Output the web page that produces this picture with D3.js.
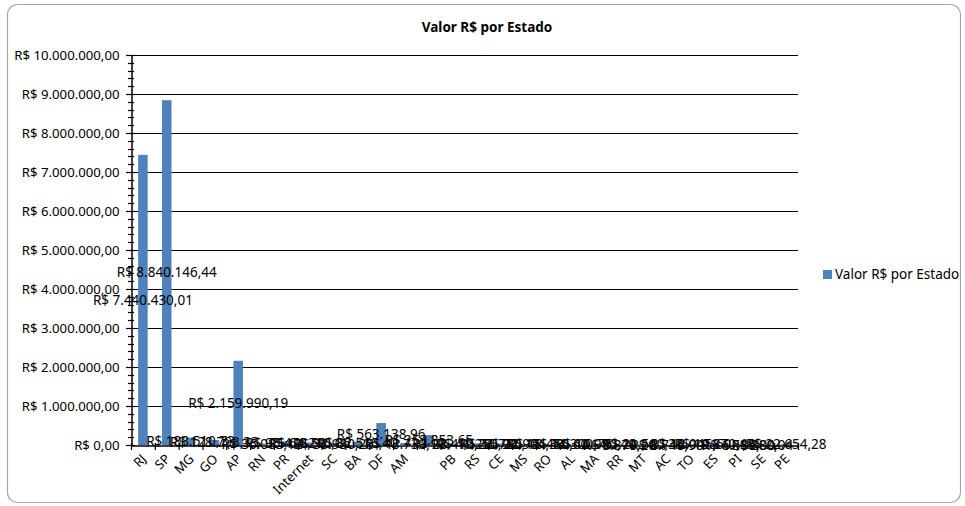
<!DOCTYPE html>
<html>
<head>
<meta charset="utf-8">
<script src="https://cdn.jsdelivr.net/npm/d3@7"></script>
<style>
  body { margin: 0; background: #fff; }
  svg { font-family: "Noto Sans", "Open Sans", sans-serif; }
</style>
</head>
<body>
<svg id="chart" width="965" height="506"></svg>
<script>
// categorias (estados) e valores
var estados = ["RJ", "SP", "MG", "GO", "AP", "RN", "PR", "Internet", "SC", "BA", "DF", "AM", "",
    "PB", "RS", "CE", "MS", "RO", "AL", "MA", "RR", "MT", "AC", "TO", "ES", "PI", "SE", "PE"];
var valores = [7440430.01, 8840146.44, 188510.73, 128793.33, 2159990.19, 36085.12, 95478.50,
    64210.06, 38930.25, 82516.40, 563138.96, 48730.10, 253853.65,
    28410.22, 41250.90, 36780.15, 22904.30, 18450.60, 14300.75, 16980.40, 9870.20,
    21560.35, 8740.90, 12045.60, 19870.45, 6580.00, 880.04, 22654.28];
var yTicks = [0, 1e6, 2e6, 3e6, 4e6, 5e6, 6e6, 7e6, 8e6, 9e6, 1e7];
var serie = "Valor R$ por Estado";

var data = estados.map(function (d, i) {
    return {cat: d, v: valores[i], i: i};
});

var br = d3.formatLocale({decimal: ",", thousands: ".", grouping: [3], currency: ["R$ ", ""]});
var fmt = br.format("$,.2f");

var svg = d3.select("#chart");
var pLeft = 131, pRight = 798, pTop = 55, pBottom = 445;
var cor = "#4f81bd";

// moldura
svg.append("rect")
    .attr("x", 7.5).attr("y", 4.5)
    .attr("width", 953).attr("height", 498)
    .attr("rx", 10).attr("ry", 10)
    .attr("fill", "#fff")
    .attr("stroke", "#a6a6a6")
    .attr("stroke-width", 1.2);

svg.append("text")
    .attr("x", 487).attr("y", 32)
    .attr("text-anchor", "middle")
    .style("font-size", "13.5px")
    .style("font-weight", "bold")
    .text(serie);

var xScale = d3.scaleBand()
    .domain(d3.range(estados.length))
    .range([pLeft, pRight])
    .paddingInner(0.6)
    .paddingOuter(0.3);

var yScale = d3.scaleLinear()
    .domain([0, 1e7])
    .range([pBottom, pTop]);

// linhas de grade
svg.append("g").selectAll("line")
    .data(yTicks.slice(1))
    .enter()
    .append("line")
    .attr("x1", pLeft).attr("x2", pRight)
    .attr("y1", function (d) { return Math.round(yScale(d)) + 0.5; })
    .attr("y2", function (d) { return Math.round(yScale(d)) + 0.5; })
    .attr("stroke", "#000")
    .attr("stroke-width", 1);

// barras
svg.append("g").selectAll("rect")
    .data(data)
    .enter()
    .append("rect")
    .attr("x", function (d) { return xScale(d.i); })
    .attr("width", xScale.bandwidth())
    .attr("y", function (d) { return yScale(d.v); })
    .attr("height", function (d) { return pBottom - yScale(d.v); })
    .attr("fill", cor);

// eixo Y
var yAxis = d3.axisLeft(yScale)
    .tickValues(yTicks)
    .tickSize(0)
    .tickPadding(12)
    .tickFormat(fmt);
var gy = svg.append("g")
    .attr("transform", "translate(" + (pLeft + 0.5) + ",0.5)")
    .call(yAxis);
gy.select(".domain").attr("stroke", "#000").attr("stroke-width", 1.5);
gy.selectAll("text").style("font-size", "13.2px").style("font-family", "Noto Sans").attr("fill", "#000");

// marcas menores e maiores (cruzando o eixo)
var minor = d3.range(0, 1e7 + 1, 2e5);
svg.append("g").selectAll("line")
    .data(minor)
    .enter()
    .append("line")
    .attr("x1", function (d) { return d % 1e6 === 0 ? pLeft - 5 : pLeft - 3; })
    .attr("x2", function (d) { return d % 1e6 === 0 ? pLeft + 4 : pLeft + 3; })
    .attr("y1", function (d) { return Math.round(yScale(d)) + 0.5; })
    .attr("y2", function (d) { return Math.round(yScale(d)) + 0.5; })
    .attr("stroke", "#000")
    .attr("stroke-width", 1.2);

// eixo X
var xAxis = d3.axisBottom(xScale)
    .tickSize(0)
    .tickPadding(0)
    .tickFormat(function (i) { return estados[i]; });
var gx = svg.append("g")
    .attr("transform", "translate(0," + (pBottom + 0.5) + ")")
    .call(xAxis);
gx.select(".domain").attr("stroke", "#000").attr("stroke-width", 1.5);
gx.selectAll("text")
    .style("font-size", "13px")
    .style("font-family", "Noto Sans")
    .attr("fill", "#000")
    .attr("text-anchor", "end")
    .attr("y", 0)
    .attr("dy", "0.35em")
    .attr("transform", "translate(1,11) rotate(-45)");

// marcas entre categorias
svg.append("g").selectAll("line")
    .data(d3.range(estados.length + 1))
    .enter()
    .append("line")
    .attr("x1", function (i) { return pLeft + i * xScale.step() + 0.5; })
    .attr("x2", function (i) { return pLeft + i * xScale.step() + 0.5; })
    .attr("y1", pBottom - 2)
    .attr("y2", pBottom + 5)
    .attr("stroke", "#000")
    .attr("stroke-width", 1.2);

// rótulos de dados (centro da barra)
svg.append("g").selectAll("text")
    .data(data)
    .enter()
    .append("text")
    .attr("x", function (d) { return xScale(d.i) + xScale.bandwidth() / 2; })
    .attr("y", function (d) { return (yScale(d.v) + pBottom) / 2; })
    .attr("dy", "0.35em")
    .attr("text-anchor", "middle")
    .style("font-size", "13.5px")
    .attr("fill", "#000")
    .text(function (d) { return fmt(d.v); });

// legenda
var lg = svg.append("g").attr("transform", "translate(823,270)");
lg.append("rect").attr("width", 9).attr("height", 9).attr("fill", cor);
lg.append("text")
    .attr("x", 12).attr("y", 9)
    .style("font-size", "13.5px")
    .text(serie);
</script>
</body>
</html>
